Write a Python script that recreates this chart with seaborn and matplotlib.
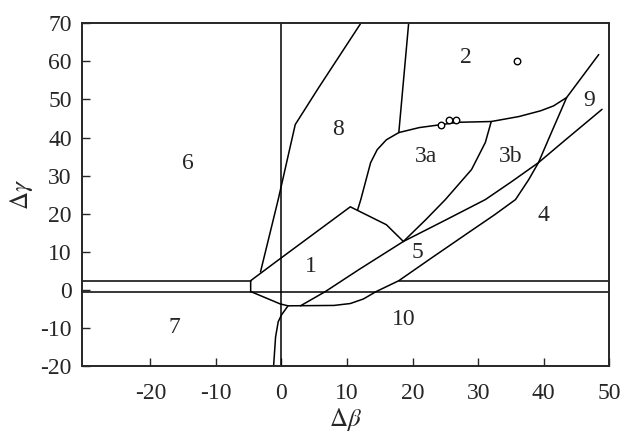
import matplotlib
matplotlib.use("Agg")
import matplotlib.pyplot as plt
import seaborn as sns
import pandas as pd

# boundary curves of the regions (delta beta, delta gamma)
upper_left_x = [-30.5, -4.7]
upper_left_y = [2.4, 2.4]
upper_right_x = [17.9, 50.0]
upper_right_y = [2.4, 2.4]
lower_line_x = [-30.5, 50.0]
lower_line_y = [-0.45, -0.45]
zero_line_x = [0.0, 0.0]
zero_line_y = [-20.0, 70.0]

region1_top_x = [-4.7, -4.7, -0.5, 10.5, 16.0, 18.6]
region1_top_y = [-0.45, 2.4, 7.8, 21.8, 17.1, 12.7]

curve_c_x = [-4.7, -0.2, 1.0, 8.0, 10.5, 12.5, 14.4, 17.9, 23.0, 28.5, 32.5,
             35.7, 37.7, 39.2, 41.1, 43.5, 48.4]
curve_c_y = [-0.45, -3.7, -4.2, -4.1, -3.6, -2.4, -0.5, 2.4, 8.5, 15.0, 19.7,
             23.7, 28.9, 33.4, 41.0, 50.5, 61.8]

curve_b_x = [2.9, 6.7, 11.8, 18.6, 25.0, 31.1, 35.1, 39.2, 43.4, 48.9]
curve_b_y = [-4.2, -0.45, 5.3, 12.7, 18.3, 23.7, 28.4, 33.4, 39.5, 47.4]

split_3_x = [18.6, 22.0, 25.0, 29.0, 31.1, 32.0]
split_3_y = [12.7, 18.4, 23.7, 31.6, 38.7, 44.2]

top_3_x = [11.6, 12.1, 13.6, 14.6, 16.0, 17.9, 21.0, 24.4, 27.0, 32.0, 36.2,
           39.5, 41.5, 43.5]
top_3_y = [20.9, 23.7, 33.4, 36.8, 39.4, 41.3, 42.6, 43.4, 44.0, 44.2, 45.5,
           47.0, 48.3, 50.5]

left_8_x = [-3.2, -0.5, 2.1, 5.6, 12.1]
left_8_y = [4.7, 23.7, 43.4, 52.9, 70.0]

right_8_x = [19.4, 17.9]
right_8_y = [70.0, 41.3]

bottom_x = [1.0, 0.0, -0.5, -0.9, -1.2]
bottom_y = [-4.2, -6.6, -8.4, -12.4, -20.0]

points_x = [24.4, 25.5, 26.6, 35.9]
points_y = [43.4, 44.5, 44.5, 60.1]

region_names = ["1", "2", "3a", "3b", "4", "5", "6", "7", "8", "9", "10"]
region_x = [4.5, 28.2, 22.1, 35.0, 39.9, 20.8, -14.3, -16.4, 8.6, 47.0, 18.6]
region_y = [6.2, 61.1, 34.9, 34.9, 19.6, 9.7, 33.3, -9.8, 42.2, 49.8, -7.9]

curves = {
    "upper_left": (upper_left_x, upper_left_y),
    "upper_right": (upper_right_x, upper_right_y),
    "lower": (lower_line_x, lower_line_y),
    "zero": (zero_line_x, zero_line_y),
    "region1": (region1_top_x, region1_top_y),
    "c": (curve_c_x, curve_c_y),
    "b": (curve_b_x, curve_b_y),
    "split3": (split_3_x, split_3_y),
    "top3": (top_3_x, top_3_y),
    "left8": (left_8_x, left_8_y),
    "right8": (right_8_x, right_8_y),
    "bottom": (bottom_x, bottom_y),
}
rows = []
for name, (xs, ys) in curves.items():
    for i, (xv, yv) in enumerate(zip(xs, ys)):
        rows.append({"curve": name, "order": i, "db": xv, "dg": yv})
df = pd.DataFrame(rows)

sns.set_style("ticks")
plt.rcParams["font.family"] = ["Liberation Serif", "DejaVu Serif"]
plt.rcParams["mathtext.fontset"] = "stix"
plt.rcParams["axes.unicode_minus"] = False

fig = plt.figure(figsize=(6.32, 4.36), dpi=100)
ax = fig.add_axes([0.129, 0.1606, 0.835, 0.786])

sns.lineplot(data=df, x="db", y="dg", units="curve", estimator=None, sort=False,
             color="black", linewidth=1.1, ax=ax)
sns.scatterplot(x=points_x, y=points_y, marker="o", s=22, facecolor="white",
                edgecolor="black", linewidth=1.0, ax=ax, zorder=5)

for name, xv, yv in zip(region_names, region_x, region_y):
    ax.text(xv, yv, name, ha="center", va="center", fontsize=17)

ax.set_xlim(-30.5, 50)
ax.set_ylim(-20, 70)
ax.set_xticks([-20, -10, 0, 10, 20, 30, 40, 50])
ax.set_yticks(range(-20, 71, 10))
ax.tick_params(direction="in", length=6, width=1.0, labelsize=17, pad=7)
ax.tick_params(axis="x", pad=12)
for sp in ax.spines.values():
    sp.set_linewidth(1.4)

ax.set_xlabel(r"$\Delta\beta$", fontsize=18, labelpad=2)
ax.set_ylabel(r"$\Delta\gamma$", fontsize=18, labelpad=4)

fig.savefig("out.png", dpi=100)
